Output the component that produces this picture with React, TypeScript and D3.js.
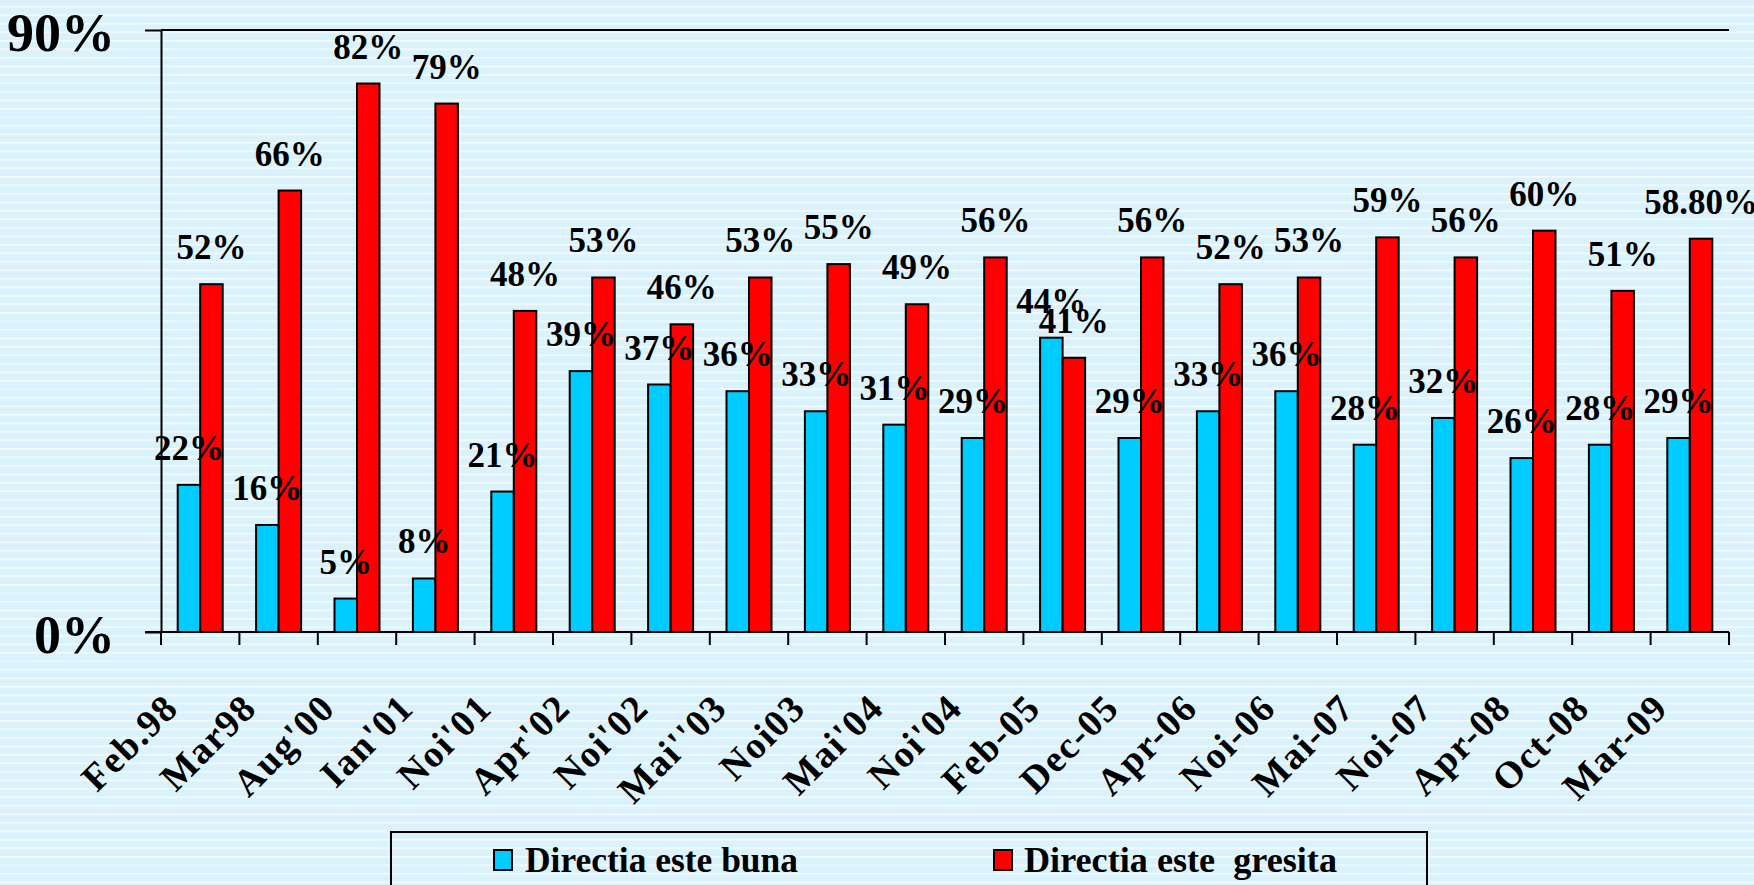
import React, { useRef, useEffect } from "react";
import * as d3 from "d3";

// survey waves
const categories = [
  "Feb.98", "Mar98", "Aug'00", "Ian'01", "Noi'01", "Apr'02", "Noi'02", "Mai''03",
  "Noi03", "Mai'04", "Noi'04", "Feb-05", "Dec-05", "Apr-06", "Noi-06", "Mai-07",
  "Noi-07", "Apr-08", "Oct-08", "Mar-09",
];

const buna = [22, 16, 5, 8, 21, 39, 37, 36, 33, 31, 29, 44, 29, 33, 36, 28, 32, 26, 28, 29];
const gresita = [52, 66, 82, 79, 48, 53, 46, 53, 55, 49, 56, 41, 56, 52, 53, 59, 56, 60, 51, 58.8];
const bunaLabels = buna.map((v) => `${v}%`);
const gresitaLabels = ["52%", "66%", "82%", "79%", "48%", "53%", "46%", "53%", "55%", "49%", "56%", "41%", "56%", "52%", "53%", "59%", "56%", "60%", "51%", "58.80%"];

const seriesNames = ["Directia este buna", "Directia este  gresita"];
const yTicks = [0, 90];

const BLUE = "#00ccff";
const RED = "#ff0000";
const FONT = "'Liberation Serif', 'Times New Roman', serif";

const App = () => {
  const svgRef = useRef<SVGSVGElement>(null);

  useEffect(() => {
    if (!svgRef.current) return;
    const width = 1754;
    const height = 885;
    const margin = { top: 30, right: 25, bottom: 253, left: 161 };
    const svg = d3.select(svgRef.current);
    svg.selectAll("*").remove();

    // striped background
    const defs = svg.append("defs");
    const pat = defs
      .append("pattern")
      .attr("id", "stripes")
      .attr("patternUnits", "userSpaceOnUse")
      .attr("width", 20)
      .attr("height", 8.5)
      .attr("y", 6);
    pat.append("rect").attr("width", 20).attr("height", 8.5).attr("fill", "#d9f2fb");
    pat.append("rect").attr("width", 20).attr("height", 1.6).attr("fill", "#f4fbfe");
    svg.append("rect").attr("width", width).attr("height", height).attr("fill", "url(#stripes)");

    const x0 = d3
      .scaleBand<string>()
      .domain(categories)
      .range([margin.left, width - margin.right])
      .paddingInner(0.426)
      .paddingOuter(0.213);
    const x1 = d3.scaleBand<number>().domain([0, 1]).range([0, x0.bandwidth()]);
    const y = d3.scaleLinear().domain([0, 90]).range([height - margin.bottom, margin.top]);
    const step = x0.step();

    // gridline at 90%
    svg
      .append("line")
      .attr("x1", margin.left)
      .attr("x2", width - margin.right)
      .attr("y1", y(90))
      .attr("y2", y(90))
      .attr("stroke", "#000")
      .attr("stroke-width", 2);

    const series = [
      { values: buna, labels: bunaLabels, color: BLUE },
      { values: gresita, labels: gresitaLabels, color: RED },
    ];

    series.forEach((s, si) => {
      svg
        .append("g")
        .selectAll("rect")
        .data(s.values)
        .join("rect")
        .attr("x", (d, i) => (x0(categories[i]) as number) + (x1(si) as number))
        .attr("y", (d) => y(d))
        .attr("width", x1.bandwidth())
        .attr("height", (d) => y(0) - y(d))
        .attr("fill", s.color)
        .attr("stroke", "#000")
        .attr("stroke-width", 2);
    });

    series.forEach((s, si) => {
      svg
        .append("g")
        .selectAll("text")
        .data(s.values)
        .join("text")
        .attr("x", (d, i) => (x0(categories[i]) as number) + (x1(si) as number) + x1.bandwidth() / 2)
        .attr("y", (d) => y(d) - 25)
        .attr("text-anchor", "middle")
        .attr("font-family", FONT)
        .attr("font-weight", "bold")
        .attr("font-size", 35)
        .text((d, i) => s.labels[i]);
    });

    // y axis
    const yAxis = svg.append("g").attr("transform", `translate(${margin.left},0)`);
    yAxis.call(d3.axisLeft(y).tickValues(yTicks).tickSize(16).tickSizeOuter(0).tickFormat((d) => `${d}%`));
    yAxis.select(".domain").attr("stroke", "#000").attr("stroke-width", 2);
    yAxis.selectAll(".tick line").attr("stroke", "#000").attr("stroke-width", 2);
    yAxis
      .selectAll(".tick text")
      .attr("x", -46)
      .attr("dy", "0.38em")
      .attr("font-family", FONT)
      .attr("font-weight", "bold")
      .attr("font-size", 54)
      .attr("fill", "#000");

    // x axis with ticks between categories
    const base = y(0);
    const xAxis = svg.append("g");
    xAxis
      .append("line")
      .attr("x1", margin.left - 16)
      .attr("x2", width - margin.right)
      .attr("y1", base)
      .attr("y2", base)
      .attr("stroke", "#000")
      .attr("stroke-width", 2);
    xAxis
      .selectAll("line.tk")
      .data(d3.range(categories.length + 1))
      .join("line")
      .attr("class", "tk")
      .attr("x1", (i) => margin.left + i * step)
      .attr("x2", (i) => margin.left + i * step)
      .attr("y1", base)
      .attr("y2", base + 13)
      .attr("stroke", "#000")
      .attr("stroke-width", 2);
    xAxis
      .selectAll("text")
      .data(categories)
      .join("text")
      .attr("transform", (d) => {
        const cx = (x0(d) as number) + x0.bandwidth() / 2 - 20;
        return `translate(${cx},${base + 78}) rotate(-45)`;
      })
      .attr("text-anchor", "end")
      .attr("font-family", FONT)
      .attr("font-weight", "bold")
      .attr("font-size", 38)
      .attr("letter-spacing", 1.5)
      .text((d) => d);

    // legend
    const lg = svg.append("g");
    lg.append("rect")
      .attr("x", 391)
      .attr("y", 832)
      .attr("width", 1036)
      .attr("height", 80)
      .attr("fill", "none")
      .attr("stroke", "#000")
      .attr("stroke-width", 2);
    const legendItems = [
      { name: seriesNames[0], color: BLUE, mx: 494, tx: 525, tl: 273 },
      { name: seriesNames[1], color: RED, mx: 994, tx: 1024, tl: 313 },
    ];
    legendItems.forEach((it) => {
      lg.append("rect")
        .attr("x", it.mx)
        .attr("y", 850)
        .attr("width", 18)
        .attr("height", 20)
        .attr("fill", it.color)
        .attr("stroke", "#000")
        .attr("stroke-width", 2);
      lg.append("text")
        .attr("x", it.tx)
        .attr("y", 872)
        .attr("font-family", FONT)
        .attr("font-weight", "bold")
        .attr("font-size", 35)
        .attr("textLength", it.tl)
        .attr("lengthAdjust", "spacingAndGlyphs")
        .style("white-space", "pre")
        .text(it.name);
    });
  }, []);

  return (
    <svg
      ref={svgRef}
      width={1754}
      height={885}
      style={{ position: "absolute", left: 0, top: 0, display: "block" }}
    ></svg>
  );
};

export default App;
